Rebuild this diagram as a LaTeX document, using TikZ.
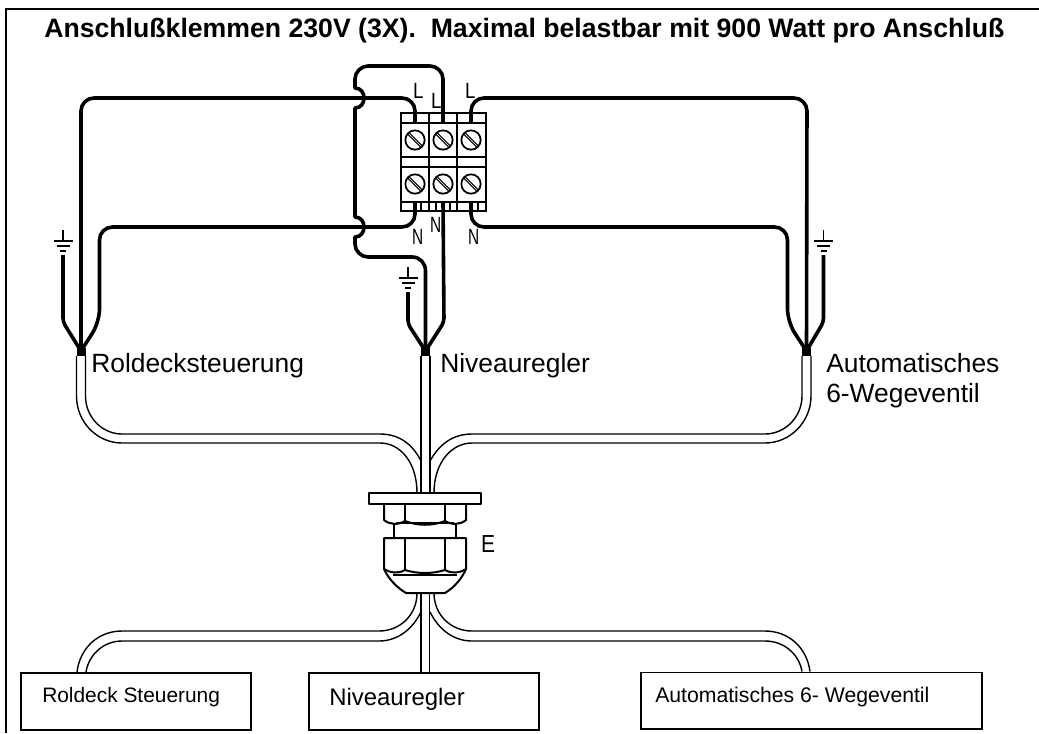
\documentclass[tikz,border=0pt]{standalone}
\usepackage{fontspec}
\setmainfont{Liberation Sans}
\usetikzlibrary{calc}
\newcommand{\fpx}[1]{\fontsize{\fpeval{#1*0.75}}{\fpeval{#1*0.9}}\selectfont}
\tikzset{
  wire/.style={line width=2.7pt,line join=round,rounded corners=9.75pt},
  plainwire/.style={line width=2.7pt,line join=round},
  cable/.style={line width=1.05pt},
  frameline/.style={line width=1.5pt},
  boxnode/.style={draw,line width=1.4pt,minimum height=42.5pt,anchor=north west,inner sep=0pt,rectangle},
  termline/.style={line width=1.3pt},
  gland/.style={line width=1.5pt,line join=round},
  screw/.style={circle,draw,line width=1.3pt,minimum size=14.5pt,inner sep=0pt},
  txt/.style={inner sep=0pt,anchor=base west},
  lbl/.style={inner sep=0pt,anchor=base west,font=\fontsize{16.5}{18}\selectfont},
  earthline/.style={line width=1.3pt}
}
\newcommand{\earthsym}[1]{%
  \draw[earthline] (#1)++(0,-25)--++(0,11);
  \draw[earthline] (#1)++(-9.5,-14)--++(19,0);
  \draw[earthline] (#1)++(-6.5,-9)--++(13,0);
  \draw[earthline] (#1)++(-3,-4)--++(6,0);
}
\newcommand{\screwslot}[1]{%
  \draw[line width=.8pt] ($(#1)+(-6.2,-7.6)$)--($(#1)+(7.6,6.2)$);
  \draw[line width=.8pt] ($(#1)+(-7.6,-6.2)$)--($(#1)+(6.2,7.6)$);
}
\begin{document}
\begin{tikzpicture}[x=0.75pt,y=-0.75pt]
\useasboundingbox (0,0) rectangle (1039,733);
% frame
\coordinate (fbl) at (6,733);
\coordinate (ftl) at (6,9);
\coordinate (ftr) at (1039,9);
\draw[frameline] (fbl)--(ftl)--(ftr);
\node[txt,font=\bfseries\fpx{26.65}] (title) at (44,37) {Anschlußklemmen 230V (3X).\ \ Maximal belastbar mit 900 Watt pro Anschluß};

% terminal block
\coordinate (blocktl) at (401,113);
\coordinate (blockbr) at (486,211);
\draw[termline] (blocktl) rectangle (blockbr);
\draw[termline] (401,123)--(486,123);
\draw[termline] (401,157)--(486,157);
\draw[termline,line width=1.7pt] (401,167)--(486,167);
\draw[termline] (401,202)--(486,202);
\draw[termline] (429,113)--(429,211);
\draw[termline] (457,113)--(457,211);
\foreach \tx in {421,436,450,478} \draw[line width=.8pt] (\tx,202)--(\tx,211);
\foreach \nm/\tx/\ty in {sa/415/140,sb/443/140,sc/471/140,sd/415/184,se/443/184,sf/471/184}{
  \node[screw] (\nm) at (\tx,\ty) {};
  \screwslot{\nm}
}
% connection points
\coordinate (tLa) at (415,123);
\coordinate (tLb) at (443,123);
\coordinate (tLc) at (471,123);
\coordinate (tNa) at (415,202);
\coordinate (tNb) at (443,202);
\coordinate (tNc) at (471,202);
\coordinate (ba) at (81,351);
\coordinate (bb) at (425.5,351);
\coordinate (bc) at (806.5,351);

% wires
\draw[wire] (tLa)--(415,98)--(81,98)--(ba);
\draw[wire] (tNa)--(415,227)--(99.5,227)--(99.5,322)[rounded corners=3pt]--(ba);
\draw[wire,rounded corners=3pt] (63,255)--(63,322)--(ba);
\draw[wire] (tLc)--(471,98)--(807,98)--(bc);
\draw[wire] (tNc)--(471,227)--(787.5,227)--(787.5,322)[rounded corners=3pt]--(bc);
\draw[wire,rounded corners=3pt] (823.5,255)--(823.5,322)--(bc);
\draw[plainwire] (tLb)--(443,79) .. controls (443,72) and (437,66) .. (430,66)--(368,66)
  .. controls (361,66) and (355,72) .. (355,79)--(355,88)
  .. controls (367,88) and (367,108) .. (355,108)--(355,217)
  .. controls (367,217) and (367,237) .. (355,237)--(355,244)
  .. controls (355,251) and (361,257) .. (368,257)--(412,257)
  .. controls (420,257) and (425.5,263) .. (425.5,271)--(bb);
\draw[wire,rounded corners=3pt] (tNb)--(444,322)--(bb);
\draw[wire,rounded corners=3pt] (408,292)--(408,324)--(bb);
% bundle blocks
\fill (76.5,348) rectangle (85.5,356);
\fill (421,348) rectangle (430,356);
\fill (802,348) rectangle (811,356);
% earth
\coordinate (ea) at (63,255);
\coordinate (eb) at (408,292);
\coordinate (ec) at (823.5,255);
\earthsym{ea}\earthsym{eb}\earthsym{ec}

% upper cables
\draw[cable] (76.5,356)--(76.5,396) .. controls (76.5,422) and (97,443) .. (122,443)--(380,443)
  .. controls (400,443) and (417,462) .. (417,493);
\draw[cable] (85.5,356)--(85.5,396) .. controls (85.5,417) and (102,434) .. (122,434)--(380,434)
  .. controls (398,434) and (412,443) .. (421,461);
\draw[cable] (421,356)--(421,493);
\draw[cable] (430,356)--(430,493);
\draw[cable] (811,356)--(811,396) .. controls (811,422) and (790,443) .. (765,443)--(472,443)
  .. controls (452,443) and (434,462) .. (434,493);
\draw[cable] (802,356)--(802,396) .. controls (802,417) and (785,434) .. (765,434)--(472,434)
  .. controls (454,434) and (440,443) .. (430,461);

% gland
\draw[gland,fill=white] (369,493) rectangle (481,504);
\draw[gland] (384,504)--(384,520) .. controls (390,525) and (398,525) .. (405,521)
  .. controls (418,526) and (432,526) .. (445,521) .. controls (452,525) and (460,525) .. (466,520)--(466,504);
\draw[gland] (405,504)--(405,521) (445,504)--(445,521);
\draw[gland] (394,525)--(394,538) (456,525)--(456,538);
\draw[gland] (396,523)--(454,523);
\draw[gland] (384,538)--(466,538)--(466,569) .. controls (460,573) and (452,574) .. (445,570)
  .. controls (432,574) and (418,574) .. (405,570) .. controls (398,574) and (390,573) .. (384,569)--cycle;
\draw[gland] (405,538)--(405,570) (445,538)--(445,570);
\draw[gland] (384,569) .. controls (388,578) and (396,587) .. (406,593)--(445,593) .. controls (455,587) and (462,578) .. (466,569);
\draw[gland] (393,575)--(457,575);

% boxes
\node[boxnode,minimum width=172.5pt] (boxa) at (20,672) {};
\node[boxnode,minimum width=172.5pt] (boxb) at (308,672) {};
\node[boxnode,minimum width=256pt] (boxc) at (640,671.5) {};
\node[txt,font=\fpx{20.9}] (ta) at (42,702) {Roldeck Steuerung};
\node[txt,font=\fpx{23.9}] (tb) at (329,705) {Niveauregler};
\node[txt,font=\fpx{21.2}] (tc) at (655,702) {Automatisches 6- Wegeventil};

% lower cables
\draw[cable] (77,672) .. controls (80,648) and (98,631) .. (122,631)--(379,631)
  .. controls (400,631) and (417,615) .. (417,593);
\draw[cable] (86,672) .. controls (89,654) and (104,641) .. (122,641)--(379,641)
  .. controls (397,641) and (412,630) .. (421,612);
\draw[cable] (421,593)--(421,672);
\draw[cable] (429.5,593)--(429.5,672);
\draw[cable] (810,671.5) .. controls (807,648) and (789,631) .. (765,631)--(472,631)
  .. controls (451,631) and (434,615) .. (434,593);
\draw[cable] (802,671.5) .. controls (799,654) and (784,641) .. (765,641)--(472,641)
  .. controls (454,641) and (439,630) .. (430,612);

% labels
\node[txt,font=\fpx{26.4}] (la) at (91,372) {Roldecksteuerung};
\node[txt,font=\fpx{26.4}] (lb) at (440,372) {Niveauregler};
\node[txt,font=\fpx{26.4}] (lc) at (826,372) {Automatisches};
\node[txt,font=\fpx{26.4}] (ld) at (826,402) {6-Wegeventil};
\node[lbl,xscale=.85] (La) at (413,98) {L};
\node[lbl,xscale=.85] (Lb) at (431,108) {L};
\node[lbl,xscale=.85] (Lc) at (465,98) {L};
\node[lbl,xscale=.7] (Na) at (412,244) {N};
\node[lbl,xscale=.7] (Nb) at (430,232) {N};
\node[lbl,xscale=.7] (Nc) at (468,244) {N};
\node[txt,font=\fontsize{18.5}{20}\selectfont,xscale=.85] (E) at (481,552) {E};
\end{tikzpicture}
\end{document}
